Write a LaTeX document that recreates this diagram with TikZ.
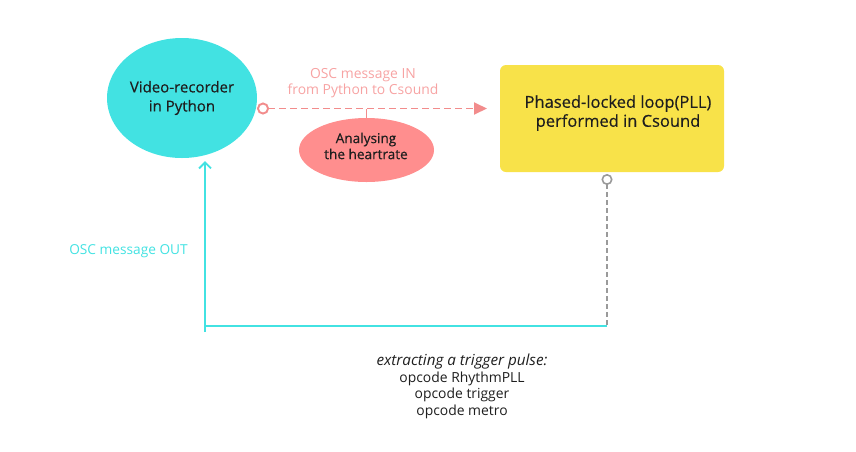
\documentclass[tikz,border=0pt]{standalone}
\usepackage{fontspec}
\setmainfont{Open Sans}
\newfontfamily\medfont[FakeBold=0.35]{Open Sans}
\usetikzlibrary{shapes.geometric,arrows.meta}
\definecolor{cyanc}{HTML}{42E2E2}
\definecolor{pinkfill}{HTML}{FF8E8E}
\definecolor{pinkline}{HTML}{F28C8C}
\definecolor{pinktext}{HTML}{F7A3A3}
\definecolor{yellowc}{HTML}{F8E249}
\definecolor{greyc}{HTML}{9A9A9A}
\definecolor{darktext}{HTML}{1E1E1E}
\tikzset{
  blob/.style={ellipse, draw=none, inner sep=0pt, align=center, text=darktext},
  boxc/.style={rectangle, rounded corners=6pt, fill=yellowc, draw=none},
  lbl/.style={inner sep=0pt, align=center},
  pinkconn/.style={draw=pinkline, line width=1.9pt, dash pattern=on 7pt off 4pt},
  greyconn/.style={draw=greyc, line width=1.6pt, dash pattern=on 5pt off 3pt},
  cyanconn/.style={draw=cyanc, line width=1.8pt},
}
\begin{document}
\begin{tikzpicture}[x=1pt,y=-1pt]
\useasboundingbox (0,0) rectangle (856,451);
\node[blob, fill=cyanc, minimum width=150pt, minimum height=120pt, font=\medfont\fontsize{15}{19}\selectfont] (vr) at (182,98) {Video-recorder\\in Python};
\node[blob, fill=pinkfill, minimum width=135pt, minimum height=64pt] (an) at (366.5,150) {};
\node[lbl, text=darktext, font=\medfont\fontsize{13.6}{16}\selectfont] (antext) at (366,146) {Analysing\\the heartrate};
\node[boxc, minimum width=224pt, minimum height=107pt] (pll) at (612,118.5) {};
\node[lbl, text=darktext, font=\medfont\fontsize{16.5}{19}\selectfont] (plltext) at (618,113) {Phased-locked loop(PLL)\\performed in Csound};
\node[lbl, text=pinktext, font=\fontsize{13.9}{16}\selectfont] (inlbl) at (363,83) {OSC message IN\\from Python to Csound};
\node[lbl, text=cyanc, font=\fontsize{13.7}{16}\selectfont] (outlbl) at (128.5,251) {OSC message OUT};
\node[lbl, text=darktext, font=\fontsize{13.9}{16.5}\selectfont] (pulse) at (462,386.5) {{\fontsize{15.2}{16.5}\selectfont\itshape extracting a trigger pulse:}\\opcode RhythmPLL\\opcode trigger\\opcode metro};
\coordinate (pstart) at (257,108.5);
\coordinate (pend) at (487,108.5);
\coordinate (gstart) at (607,174);
\coordinate (gend) at (607,326);
\coordinate (corner) at (205,326);
\coordinate (cbelow) at (205,332);
\draw[pinkconn, {Circle[open, length=12pt, width=12pt, fill=white]}-{Triangle[length=13pt, width=12pt]}] (pstart) -- (pend);
\draw[draw=pinkline, line width=1.6pt] (an.north) -- (an.north |- pstart);
\draw[greyconn, {Circle[open, length=11pt, width=11pt, fill=white]}-] (gstart) -- (gend);
\draw[cyanconn] (gend) -- (corner);
\draw[cyanconn, -{Straight Barb[length=6pt, width=12pt]}, shorten >=3pt] (cbelow) -- (cbelow |- vr.south);
\end{tikzpicture}
\end{document}
